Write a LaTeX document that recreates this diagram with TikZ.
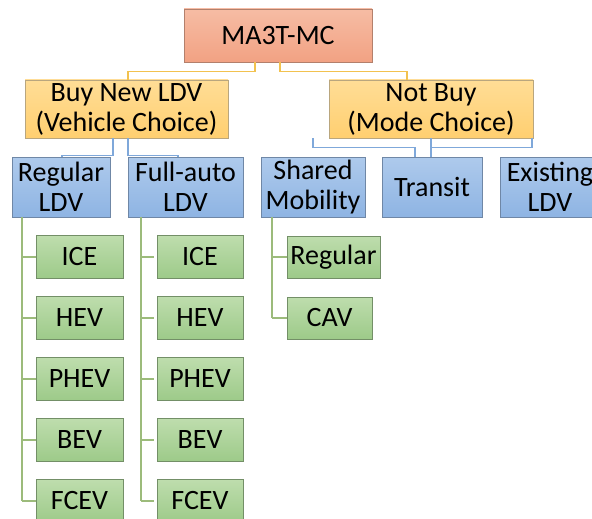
\documentclass[tikz,border=0pt]{standalone}
\usepackage{fontspec}
\setmainfont{Carlito}
\usetikzlibrary{calc}

\definecolor{rootTop}{HTML}{F6BCA4}
\definecolor{rootBot}{HTML}{F2A283}
\definecolor{rootEdge}{HTML}{B3806C}
\definecolor{orTop}{HTML}{FFDD96}
\definecolor{orBot}{HTML}{FFCF70}
\definecolor{orEdge}{HTML}{B9A67E}
\definecolor{blTop}{HTML}{AECAEC}
\definecolor{blBot}{HTML}{8EB4E3}
\definecolor{blEdge}{HTML}{6F87A6}
\definecolor{grTop}{HTML}{BEDDAD}
\definecolor{grBot}{HTML}{9DCA89}
\definecolor{grEdge}{HTML}{738F67}
\definecolor{orLine}{HTML}{F2C24F}
\definecolor{blLine}{HTML}{7FA8DA}
\definecolor{grLine}{HTML}{9CBB7B}

\begin{document}
\begin{tikzpicture}[x=1pt,y=-1pt,
  box/.style={draw, line width=0.8pt, inner sep=0pt, align=center,
    font=\fontsize{28}{30}\selectfont, text=black},
  rootbox/.style={box, top color=rootTop, bottom color=rootBot, draw=rootEdge},
  orbox/.style={box, top color=orTop, bottom color=orBot, draw=orEdge,
    minimum height=58pt},
  blbox/.style={box, top color=blTop, bottom color=blBot, draw=blEdge,
    minimum height=60pt},
  grbox/.style={box, top color=grTop, bottom color=grBot, draw=grEdge,
    minimum height=43pt},
  oline/.style={draw=orLine, line width=1.2pt},
  bline/.style={draw=blLine, line width=1.2pt},
  gline/.style={draw=grLine, line width=1.2pt}]
\useasboundingbox (0,0) rectangle (592,519);
\clip (0,0) rectangle (592,519);

% top level
\node[rootbox, minimum width=188pt, minimum height=53pt] (root) at (278,35.5) {MA3T-MC};

% second level
\node[orbox, minimum width=203pt] (buy) at (126.5,109) {Buy New LDV\\(Vehicle Choice)};
\node[orbox, minimum width=204pt] (notbuy) at (431,109) {Not Buy\\(Mode Choice)};

% third level
\node[blbox, minimum width=98pt]  (reg)     at (61,187)    {Regular\\LDV};
\node[blbox, minimum width=115pt] (full)    at (185.5,187) {Full-auto\\LDV};
\node[blbox, minimum width=104pt] (shared)  at (313,187)   {Shared\\Mobility};
\node[blbox, minimum width=100pt] (transit) at (432,187)   {Transit};
\node[blbox, minimum width=100pt] (exist)   at (550,187)   {Existing\\LDV};

% powertrains under regular LDV
\node[grbox, minimum width=87pt] (rI) at (79.5,257) {ICE};
\node[grbox, minimum width=87pt] (rH) at (79.5,318) {HEV};
\node[grbox, minimum width=87pt] (rP) at (79.5,379) {PHEV};
\node[grbox, minimum width=87pt] (rB) at (79.5,440) {BEV};
\node[grbox, minimum width=87pt] (rF) at (79.5,501) {FCEV};

% powertrains under full-auto LDV
\node[grbox, minimum width=86pt] (fI) at (200,257) {ICE};
\node[grbox, minimum width=86pt] (fH) at (200,318) {HEV};
\node[grbox, minimum width=86pt] (fP) at (200,379) {PHEV};
\node[grbox, minimum width=86pt] (fB) at (200,440) {BEV};
\node[grbox, minimum width=86pt] (fF) at (200,501) {FCEV};

% shared mobility options
\node[grbox, minimum width=93pt, minimum height=42pt] (sR) at (333.5,257) {Regular};
\node[grbox, minimum width=85pt, minimum height=42pt] (sC) at (329.5,318) {CAV};

% root connectors
\draw[oline] ([xshift=-23pt]root.south) -- ++(0,9) -| ([xshift=1.5pt]buy.north);
\draw[oline] ([xshift=2pt]root.south) -- ++(0,9) -| ([xshift=-24pt]notbuy.north);

% vehicle choice connectors
\draw[bline] ([xshift=-13.5pt]buy.south) -- ++(0,17) -| ([xshift=1pt]reg.north);
\draw[bline] ([xshift=1.5pt]buy.south) -- ++(0,17) -| ([xshift=-7.5pt]full.north);

% mode choice connectors
\draw[bline] ([xshift=-118pt]notbuy.south) -- ++(0,9) -| ([xshift=-17pt]transit.north);
\draw[bline] (notbuy.south) -- (notbuy.south |- transit.north);
\draw[bline] ([xshift=101pt]notbuy.south) |- ($(notbuy.south)+(0,9)$);

% powertrain bars
\coordinate (lbar) at ([xshift=-39pt]reg.south);
\coordinate (rbar) at ([xshift=-44.5pt]full.south);
\coordinate (sbar) at ([xshift=-41pt]shared.south);

\draw[gline] (lbar) -- (lbar |- rF.west);
\foreach \n in {rI,rH,rP,rB,rF} \draw[gline] (lbar |- \n.west) -- (\n.west);

\draw[gline] (rbar) -- (rbar |- fF.west);
\foreach \n in {fI,fH,fP,fB,fF} \draw[gline] (rbar |- \n.west) -- ([xshift=-3pt]\n.west);

\draw[gline] (sbar) -- (sbar |- sC.west);
\foreach \n in {sR,sC} \draw[gline] (sbar |- \n.west) -- (\n.west);
\end{tikzpicture}
\end{document}
